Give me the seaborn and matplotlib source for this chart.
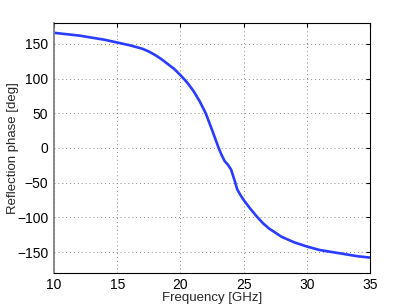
import matplotlib
matplotlib.use("Agg")
import matplotlib.pyplot as plt
import pandas as pd
import seaborn as sns

# Values
freq = [10, 11, 12, 13, 14, 15, 16, 17, 17.5, 18, 18.5, 19, 19.5, 20, 20.5, 21, 21.5,
        22, 22.5, 23, 23.25, 23.5, 23.75, 24, 24.25, 24.5, 24.75, 25, 25.5, 26, 26.5,
        27, 28, 29, 30, 31, 32, 33, 34, 35]
phase = [166, 164, 162, 159, 156, 152, 148, 143, 139, 134, 128, 121, 114, 105, 95, 83, 68,
         50, 26, 1, -10, -19, -24, -31, -45, -60, -68, -75, -87, -98, -108,
         -116, -128, -136, -142, -147, -150, -153, -156, -158]

df = pd.DataFrame({'freq': freq, 'phase': phase})

sns.set_style('white')
plt.rcParams['font.family'] = ['Liberation Sans', 'DejaVu Sans']
plt.rcParams['axes.unicode_minus'] = True

fig = plt.figure(figsize=(4.09, 3.08), dpi=100)
ax = fig.add_axes([0.132, 0.114, 0.773, 0.811])
sns.lineplot(x='freq', y='phase', data=df, color='#2a3cff', linewidth=1.9, ax=ax)

ax.set_xlim(10, 35)
ax.set_ylim(-180, 180)
ax.set_xticks([10, 15, 20, 25, 30, 35])
ax.set_yticks([-150, -100, -50, 0, 50, 100, 150])
ax.grid(True, linestyle=(0, (1, 3)), color='#888888', linewidth=0.7)
ax.tick_params(direction='in', length=3, labelsize=10, colors='black', top=True, right=True, pad=4)
for s in ax.spines.values():
    s.set_color('black')
    s.set_linewidth(0.8)
ax.spines['left'].set_color('#777777')
ax.spines['left'].set_linewidth(1.2)
ax.set_xlabel('Frequency [GHz]', fontsize=9.5, labelpad=0)
ax.set_ylabel('Reflection phase [deg]', fontsize=9.5, labelpad=0)
ax.yaxis.set_label_coords(-0.112, 0.5)

fig.savefig('out.png', dpi=100)
